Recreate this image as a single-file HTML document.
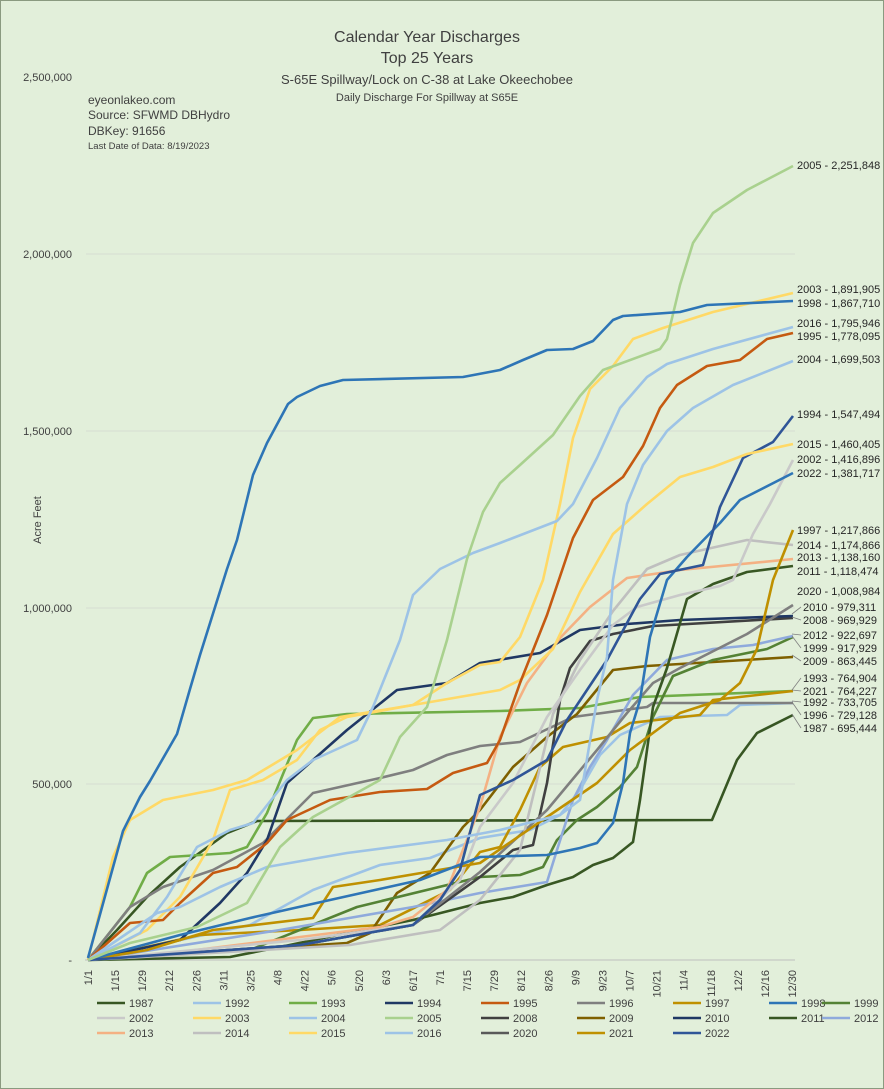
<!DOCTYPE html>
<html><head><meta charset="utf-8"><style>
html,body{margin:0;padding:0}
body{width:884px;height:1089px;overflow:hidden;background:#e2efda;font-family:"Liberation Sans",sans-serif}
svg{display:block}
</style></head><body>
<svg width="884" height="1089" viewBox="0 0 884 1089" xmlns="http://www.w3.org/2000/svg" font-family="Liberation Sans, sans-serif">
<rect x="0.5" y="0.5" width="883" height="1088" fill="none" stroke="#8a9a80"/>
<g fill="#404040" text-anchor="middle">
<text x="427" y="42" font-size="16">Calendar Year Discharges</text>
<text x="427" y="63" font-size="16">Top 25 Years</text>
<text x="427" y="84" font-size="13">S-65E Spillway/Lock on C-38 at Lake Okeechobee</text>
<text x="427" y="101" font-size="11">Daily Discharge For Spillway at S65E</text>
</g>
<g fill="#404040" font-size="12">
<text x="88" y="104">eyeonlakeo.com</text>
<text x="88" y="119">Source: SFWMD DBHydro</text>
<text x="88" y="135">DBKey: 91656</text>
<text x="88" y="149" font-size="9.5">Last Date of Data: 8/19/2023</text>
</g>
<g stroke="#d6dcd2" stroke-width="1">
<line x1="86" y1="254" x2="795" y2="254"/><line x1="86" y1="431" x2="795" y2="431"/>
<line x1="86" y1="608" x2="795" y2="608"/><line x1="86" y1="784" x2="795" y2="784"/>
</g>
<g fill="#404040" font-size="11" text-anchor="end">
<text x="72" y="81">2,500,000</text>
<text x="72" y="258">2,000,000</text>
<text x="72" y="435">1,500,000</text>
<text x="72" y="612">1,000,000</text>
<text x="72" y="788">500,000</text>
<text x="72" y="964">-</text>
</g>
<text transform="translate(41,520) rotate(-90)" font-size="11" fill="#404040" text-anchor="middle">Acre Feet</text>
<line x1="85" y1="960" x2="795" y2="960" stroke="#bfbfbf"/>
<g fill="#404040" font-size="11" text-anchor="end" id="xl"></g>
<g fill="none" stroke-width="2.6" stroke-linejoin="round">
<polyline stroke="#375623" points="88,960 117,930 147,897 180,867 227,833 257,821 712,820 737,760 757,733 793,715"/>
<polyline stroke="#9dc3e6" points="88,960 250,925 313,890 380,865 430,858 480,838 530,830 560,815 580,790 600,755 620,735 660,717 727,715 740,705 793,703"/>
<polyline stroke="#70ad47" points="88,960 130,907 147,873 170,857 230,853 247,847 267,813 297,740 313,718 347,714 500,711 580,708 640,697 793,691"/>
<polyline stroke="#7f7f7f" points="88,960 130,907 163,887 213,870 263,843 313,793 380,778 413,770 447,755 480,746 520,742 573,717 647,707 653,703 793,703"/>
<polyline stroke="#bf9000" points="88,960 200,935 300,930 380,925 450,890 480,852 500,847 520,810 540,767 563,747 607,737 630,723 700,715 713,700 793,691"/>
<polyline stroke="#7f6000" points="88,960 347,943 370,933 397,893 430,873 463,827 480,810 513,767 547,737 577,714 613,670 647,666 713,662 793,657"/>
<polyline stroke="#548235" points="88,960 250,950 357,907 480,877 520,875 543,867 557,840 577,820 597,807 620,787 637,767 653,717 673,676 713,660 767,649 793,637"/>
<polyline stroke="#8faadc" points="88,960 280,930 413,907 480,893 547,882 557,850 573,800 590,767 607,740 633,695 667,660 713,649 753,645 793,636"/>
<polyline stroke="#404040" points="88,960 300,945 413,925 480,877 513,850 533,845 547,783 560,700 570,668 590,641 613,634 653,626 793,618"/>
<polyline stroke="#203864" points="88,960 180,940 220,903 247,873 267,840 287,783 313,760 347,730 397,690 447,683 480,663 540,653 580,630 627,624 680,620 793,616"/>
<polyline stroke="#7f7f7f" points="88,960 300,945 413,925 480,872 547,810 597,750 627,713 653,683 680,668 747,634 793,605"/>
<polyline stroke="#385723" points="88,960 230,957 280,947 347,933 413,920 480,903 513,897 547,885 573,877 593,865 613,858 633,842 640,800 647,750 653,707 667,668 687,599 713,584 747,572 793,566"/>
<polyline stroke="#f4b183" points="88,960 180,952 380,927 413,917 447,890 480,807 500,737 527,683 560,638 590,607 627,578 680,570 793,559"/>
<polyline stroke="#bfbfbf" points="88,960 350,945 440,930 480,900 520,850 553,714 580,660 613,611 647,569 680,555 747,540 793,545"/>
<polyline stroke="#c9c9c9" points="88,960 300,940 413,925 460,880 480,827 513,783 547,717 580,670 613,625 637,607 680,595 720,586 733,580 753,534 770,504 793,460"/>
<polyline stroke="#bf9000" points="88,960 147,950 213,930 313,918 333,887 380,880 480,863 547,817 597,783 630,750 680,713 720,700 740,683 757,649 773,580 793,530"/>
<polyline stroke="#2e75b6" points="88,960 180,935 250,918 330,900 420,880 480,857 547,855 580,848 597,843 613,823 623,783 630,733 640,700 650,637 667,580 687,557 720,523 740,500 793,473"/>
<polyline stroke="#2f5597" points="88,960 300,945 413,925 440,900 460,870 480,795 513,780 547,760 567,720 607,660 640,599 660,574 703,565 720,507 743,458 773,442 793,416"/>
<polyline stroke="#ffd966" points="88,960 113,857 130,820 163,800 213,790 247,780 297,750 340,717 413,705 500,690 520,680 553,649 580,592 613,534 647,504 680,477 713,467 747,454 793,444"/>
<polyline stroke="#ffd966" points="88,960 147,930 180,897 213,840 230,790 263,780 297,760 320,730 347,717 413,705 447,683 480,665 500,662 520,637 543,580 560,504 573,438 590,389 613,366 633,339 663,328 713,312 793,293"/>
<polyline stroke="#c55a11" points="88,960 130,923 163,920 180,903 213,873 237,867 267,843 287,820 330,800 380,792 427,789 453,773 487,763 500,740 520,683 547,615 573,538 593,500 623,477 643,446 660,408 677,385 707,366 740,360 767,339 793,333"/>
<polyline stroke="#9dc3e6" points="88,960 157,913 180,907 220,887 267,867 347,853 447,840 500,830 560,815 580,800 597,700 607,657 613,580 627,504 643,465 667,431 693,408 733,385 793,361"/>
<polyline stroke="#9dc3e6" points="88,960 140,933 167,897 197,847 230,830 253,823 287,780 313,760 357,740 373,707 400,640 413,595 440,569 473,553 500,543 513,538 557,521 573,504 597,458 620,408 647,377 667,364 713,349 793,327"/>
<polyline stroke="#a9d18e" points="88,960 130,943 197,927 247,903 280,847 313,817 380,780 400,737 427,707 447,640 467,559 483,512 500,483 520,465 553,435 580,396 603,370 660,349 667,339 680,285 693,243 713,213 747,190 793,166"/>
<polyline stroke="#2e75b6" points="88,958 123,831 140,797 150,781 177,734 190,689 200,655 227,569 237,540 253,475 267,443 288,404 297,397 320,386 343,380 463,377 500,370 523,360 547,350 573,349 593,341 613,320 623,316 680,312 707,305 793,301"/>
</g>
<g fill="#262626" font-size="11">
<text x="797" y="169">2005 - 2,251,848</text>
<text x="797" y="293">2003 - 1,891,905</text>
<text x="797" y="307">1998 - 1,867,710</text>
<text x="797" y="327">2016 - 1,795,946</text>
<text x="797" y="340">1995 - 1,778,095</text>
<text x="797" y="363">2004 - 1,699,503</text>
<text x="797" y="418">1994 - 1,547,494</text>
<text x="797" y="448">2015 - 1,460,405</text>
<text x="797" y="463">2002 - 1,416,896</text>
<text x="797" y="477">2022 - 1,381,717</text>
<text x="797" y="534">1997 - 1,217,866</text>
<text x="797" y="549">2014 - 1,174,866</text>
<text x="797" y="561">2013 - 1,138,160</text>
<text x="797" y="575">2011 - 1,118,474</text>
<text x="797" y="595">2020 - 1,008,984</text>
<text x="803" y="611">2010 - 979,311</text>
<text x="803" y="624">2008 - 969,929</text>
<text x="803" y="639">2012 - 922,697</text>
<text x="803" y="652">1999 - 917,929</text>
<text x="803" y="665">2009 - 863,445</text>
<text x="803" y="682">1993 - 764,904</text>
<text x="803" y="695">2021 - 764,227</text>
<text x="803" y="706">1992 - 733,705</text>
<text x="803" y="719">1996 - 729,128</text>
<text x="803" y="732">1987 - 695,444</text>
</g>
<g stroke="#7f7f7f" stroke-width="0.8">
<line x1="792" y1="614" x2="801" y2="607"/><line x1="792" y1="617" x2="801" y2="620"/>
<line x1="792" y1="634" x2="801" y2="635"/><line x1="792" y1="636" x2="801" y2="648"/>
<line x1="792" y1="655" x2="801" y2="661"/><line x1="792" y1="690" x2="801" y2="678"/>
<line x1="792" y1="690" x2="801" y2="691"/><line x1="792" y1="701" x2="801" y2="702"/>
<line x1="792" y1="702" x2="801" y2="715"/><line x1="792" y1="714" x2="801" y2="728"/>
</g>
<g id="leg" font-size="11" fill="#404040"></g>
</svg>
<script>
var ns="http://www.w3.org/2000/svg";
var xl=document.getElementById("xl");
var labs=["1/1","1/15","1/29","2/12","2/26","3/11","3/25","4/8","4/22","5/6","5/20","6/3","6/17","7/1","7/15","7/29","8/12","8/26","9/9","9/23","10/7","10/21","11/4","11/18","12/2","12/16","12/30"];
labs.forEach(function(l,i){var x=88+i*704/26;var t=document.createElementNS(ns,"text");t.setAttribute("transform","translate("+(x+4)+",970) rotate(-90)");t.textContent=l;xl.appendChild(t);});
var items=[["1987","#375623"],["1992","#9dc3e6"],["1993","#70ad47"],["1994","#203864"],["1995","#c55a11"],["1996","#7f7f7f"],["1997","#bf9000"],["1998","#2e75b6"],["1999","#548235"],
["2002","#c9c9c9"],["2003","#ffd966"],["2004","#9dc3e6"],["2005","#a9d18e"],["2008","#404040"],["2009","#7f6000"],["2010","#1f3864"],["2011","#385723"],["2012","#8faadc"],
["2013","#f4b183"],["2014","#bfbfbf"],["2015","#ffd966"],["2016","#9dc3e6"],["2020","#595959"],["2021","#bf9000"],["2022","#2f5597"]];
var leg=document.getElementById("leg");
items.forEach(function(it,k){var r=k<9?0:(k<18?1:2);var c=k<9?k:(k<18?k-9:k-18);var x=97+c*96;if(c==8)x=822;var y=1003+r*15;
var l=document.createElementNS(ns,"line");l.setAttribute("x1",x);l.setAttribute("x2",x+28);l.setAttribute("y1",y);l.setAttribute("y2",y);l.setAttribute("stroke",it[1]);l.setAttribute("stroke-width","2.6");leg.appendChild(l);
var t=document.createElementNS(ns,"text");t.setAttribute("x",x+32);t.setAttribute("y",y+4);t.textContent=it[0];leg.appendChild(t);});
</script>
</body></html>
